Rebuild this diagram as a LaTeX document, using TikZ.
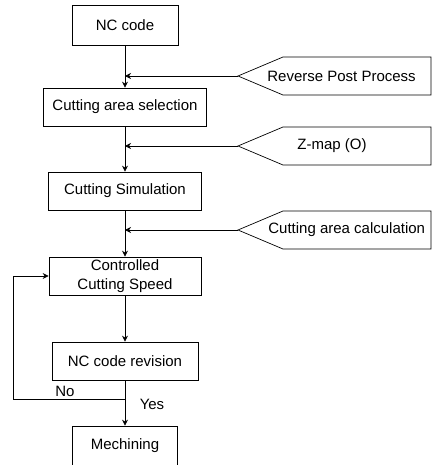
\documentclass[tikz,border=0pt]{standalone}
\usepackage{fontspec}
\setmainfont{Liberation Sans}
\usetikzlibrary{arrows.meta}
\newcommand{\flowfont}{\fontsize{15}{19}\selectfont}

\begin{document}
\begin{tikzpicture}[x=1pt,y=-1pt,>={Stealth[length=6pt,width=6pt]},line width=0.7pt,
    stepbox/.style={draw,rectangle,minimum height=38pt,inner sep=0pt,font=\flowfont},
    tagline/.style={draw},
    tagtext/.style={anchor=west,inner sep=0pt,font=\flowfont},
    lbl/.style={inner sep=0pt,font=\flowfont}]
\useasboundingbox (0,0) rectangle (433,465);

% main steps
\node[stepbox,minimum width=106pt,minimum height=40pt] (nc) at (125,25) {NC code};
\node[stepbox,minimum width=163pt] (sel) at (125,107) {Cutting area selection};
\node[stepbox,minimum width=153pt] (sim) at (125,191) {Cutting Simulation};
\node[stepbox,minimum width=152pt,align=center] (ccs) at (125,276) {Controlled\\Cutting Speed};
\node[stepbox,minimum width=146pt] (rev) at (125,361) {NC code revision};
\node[stepbox,minimum width=105pt,minimum height=40pt] (mach) at (125,446) {Mechining};

% side inputs
\foreach \name/\y/\tx/\txt in {rpp/76/267/{Reverse Post Process},zmap/146/297/{Z-map (O)},cac/230/268/{Cutting area calculation}}{
    \coordinate (\name-tip) at (238,\y);
    \coordinate (\name-in) at (125,\y);
    \draw[tagline] (\name-tip) -- (283,\y-19) -- (431,\y-19) -- (431,\y+19) -- (283,\y+19) -- cycle;
    \node[tagtext] (\name) at (\tx,\y) {\txt};
    \draw[->] (\name-tip) -- (\name-in);
}

\draw[->] (nc) -- (sel);
\draw[->] (sel) -- (sim);
\draw[->] (sim) -- (ccs);
\draw[->] (ccs) -- (rev);
\draw[->] (rev) -- (mach);

% loop back
\coordinate (split) at (125,399);
\coordinate (back) at (13,399);
\draw[->] (split) -- (back) |- (ccs.west);
\node[lbl] (no) at (65,391) {No};
\node[lbl] (yes) at (152,404) {Yes};
\end{tikzpicture}
\end{document}
